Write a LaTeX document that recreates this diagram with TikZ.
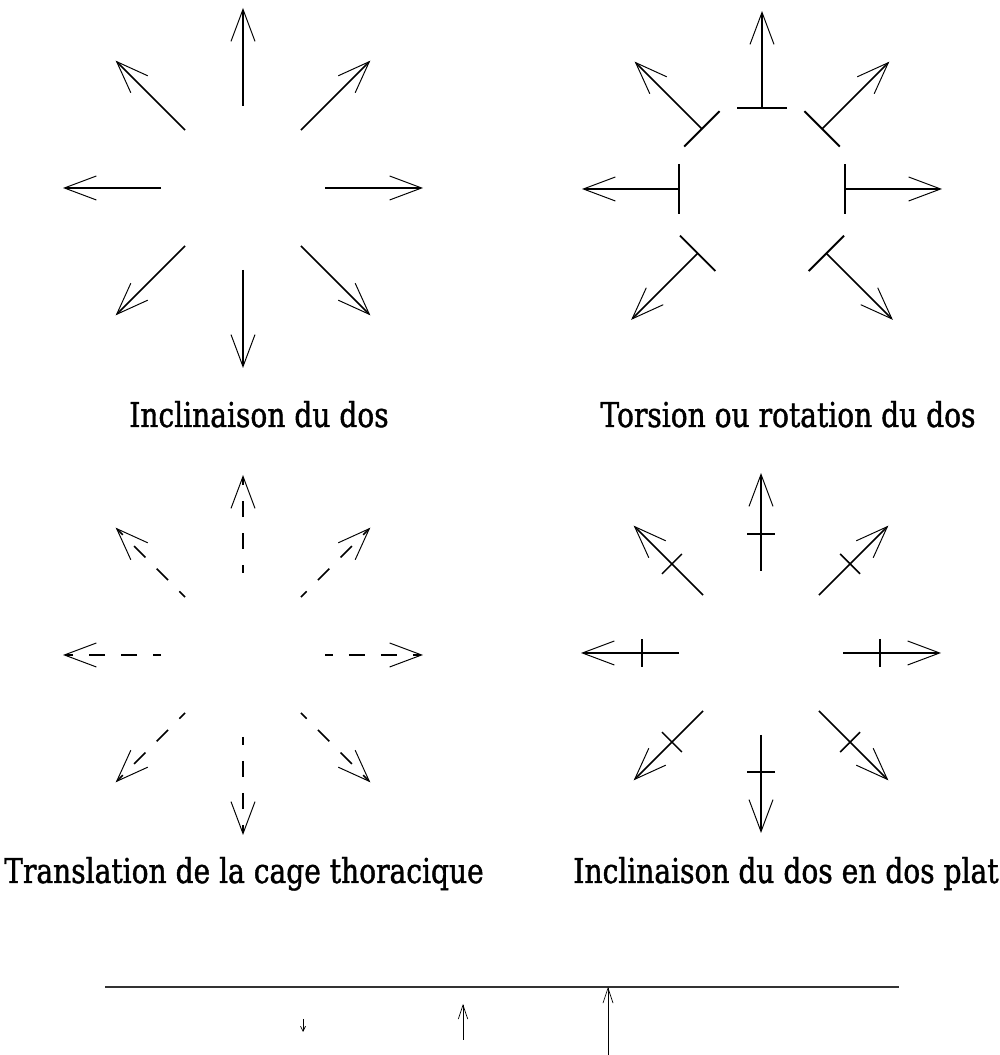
\documentclass[tikz,border=0pt]{standalone}
\usepackage{fontspec}
\setmainfont[FakeStretch=0.82,FakeBold=1.2]{DejaVu Serif}
\usetikzlibrary{arrows.meta,calc}
\tikzset{>={Straight Barb[length=0.64cm,width=0.48cm,line width=0.55pt]}}
\begin{document}
\begin{tikzpicture}
[x=0.02cm, y=0.02cm,%
  spoke/.style={->,line width=0.85pt},%
  dashSpoke/.style={spoke,dash pattern=on 0.32cm off 0.32cm,dash phase=0.16cm},%
  barSpoke/.style={{Bar[width=1cm,line width=1.1pt]}->,line width=0.85pt},%
  crossTick/.style={-,line width=0.85pt},%
  caption/.style={anchor=base,inner sep=0pt,font=\fontsize{19.5}{24}\selectfont},%
  baseLine/.style={-,line width=0.6pt,color=black!80},%
  smallTip/.style={-{Straight Barb[length=0.1cm,width=0.1cm,line width=0.4pt]},line width=0.5pt},%
  midTip/.style={-{Straight Barb[length=0.28cm,width=0.19cm,line width=0.4pt]},line width=0.5pt},%
  bigTip/.style={-{Straight Barb[length=0.3cm,width=0.2cm,line width=0.4pt]},line width=0.5pt}]
\useasboundingbox (0,0) rectangle (1000,1055);
%% centres of the four stars
\coordinate (tl) at (243,867);
\coordinate (tr) at (762,866);
\coordinate (bl) at (243,400);
\coordinate (br) at (761,402);
%% inclinaison du dos
\foreach \a in {0,45,...,315}
{
  \coordinate (tl-in-\a) at ($(tl)+(\a:82)$);
  \coordinate (tl-out-\a) at ($(tl)+(\a:180)$);
  \draw[spoke] (tl-in-\a) -- (tl-out-\a);
}
%% torsion ou rotation du dos
\foreach \a/\ri/\ro in {0/82/180, 45/84/180, 90/80/178, 135/84/180, 180/82/180, 225/90/185, 315/90/185}
{
  \coordinate (tr-in-\a) at ($(tr)+(\a:\ri)$);
  \coordinate (tr-out-\a) at ($(tr)+(\a:\ro)$);
  \draw[barSpoke] (tr-in-\a) -- (tr-out-\a);
}
%% translation de la cage thoracique
\foreach \a in {0,45,...,315}
{
  \coordinate (bl-in-\a) at ($(bl)+(\a:82)$);
  \coordinate (bl-out-\a) at ($(bl)+(\a:180)$);
  \draw[dashSpoke] (bl-in-\a) -- (bl-out-\a);
}
%% inclinaison du dos en dos plat
\foreach \a/\rc in {0/119, 45/126, 90/119, 135/126, 180/119, 225/126, 270/119, 315/126}
{
  \coordinate (br-in-\a) at ($(br)+(\a:82)$);
  \coordinate (br-out-\a) at ($(br)+(\a:180)$);
  \coordinate (br-x-\a) at ($(br)+(\a:\rc)$);
  \draw[spoke] (br-in-\a) -- (br-out-\a);
  \draw[crossTick] ($(br-x-\a)+(\a+90:14)$) -- ($(br-x-\a)+(\a-90:14)$);
}
%% captions
\node[caption] (capTL) at (259,628) {Inclinaison du dos};
\node[caption] (capTR) at (788,628) {Torsion ou rotation du dos};
\node[caption] (capBL) at (244,172) {Translation de la cage thoracique};
\node[caption] (capBR) at (786,172) {Inclinaison du dos en dos plat};
%% bottom line and its three arrows
\coordinate (lineL) at (105,68);
\coordinate (lineR) at (899,68);
\draw[baseLine] (lineL) -- (lineR);
\coordinate (smallA) at (303,36);
\coordinate (smallB) at (303,23);
\coordinate (midA) at (463,15);
\coordinate (midB) at (463,51);
\coordinate (bigA) at (608,0);
\coordinate (bigB) at (608,68);
\draw[smallTip] (smallA) -- (smallB);
\draw[midTip] (midA) -- (midB);
\draw[bigTip] (bigA) -- (bigB);
\end{tikzpicture}
\end{document}
